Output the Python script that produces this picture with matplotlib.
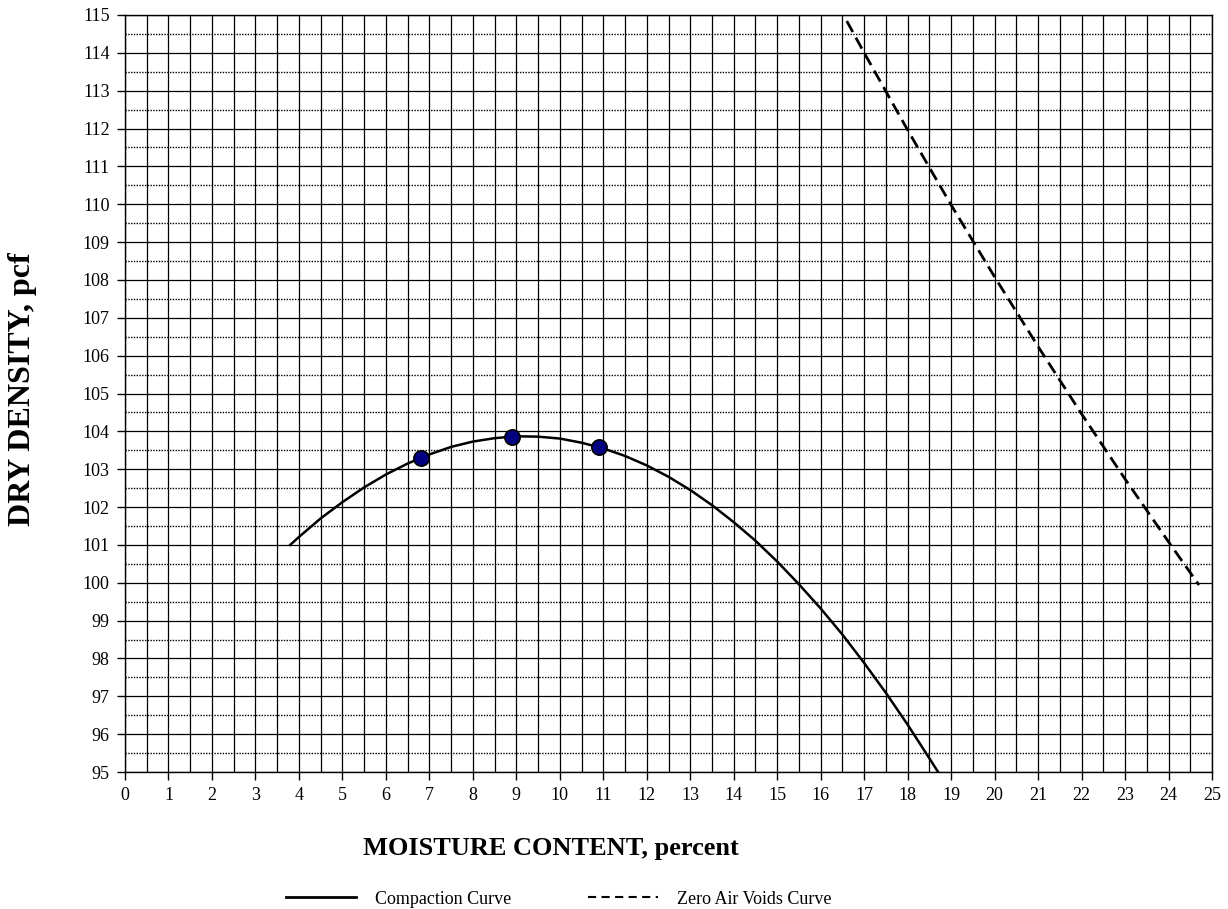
import numpy as np
import matplotlib.pyplot as plt
from matplotlib.lines import Line2D

plt.rcParams['font.family'] = ['Liberation Serif', 'DejaVu Serif']

# test points
moisture = [6.8, 8.9, 10.9]
density = [103.3, 103.85, 103.58]

# compaction curve
curve_x = [3.8, 4.0, 4.5, 5.0, 5.5, 6.0, 6.5, 7.0, 7.5, 8.0, 8.5, 9.0, 9.5, 10.0,
           10.5, 11.0, 11.5, 12.0, 12.5, 13.0, 13.5, 14.0, 14.5, 15.0, 15.5, 16.0,
           16.5, 17.0, 17.5, 18.0, 18.5, 18.7]
curve_y = [101.00, 101.21, 101.70, 102.13, 102.52, 102.86, 103.15, 103.39, 103.59,
           103.73, 103.82, 103.87, 103.86, 103.81, 103.70, 103.55, 103.35, 103.10,
           102.80, 102.45, 102.05, 101.60, 101.11, 100.56, 99.96, 99.32, 98.63,
           97.88, 97.09, 96.25, 95.36, 95.00]

# zero air voids curve
zav_x = [16.6, 17, 18, 19, 20, 21, 22, 23, 24, 24.7]
zav_y = [114.84, 114.0, 111.96, 109.98, 108.08, 106.24, 104.46, 102.74, 101.08, 99.94]

fig = plt.figure(figsize=(12.28, 9.09), dpi=100)
ax = fig.add_axes([0.1018, 0.1507, 0.8852, 0.8328])

ax.set_xlim(0, 25)
ax.set_ylim(95, 115)
ax.set_xticks(np.arange(0, 26, 1))
ax.set_yticks(np.arange(95, 116, 1))
ax.set_xticks(np.arange(0.5, 25, 1), minor=True)
ax.set_yticks(np.arange(95.5, 115, 1), minor=True)
ax.tick_params(which='major', direction='out', length=6, width=1, labelsize=13, pad=5)
ax.tick_params(which='minor', length=0)

ax.grid(which='major', axis='both', color='black', lw=0.9, ls='-')
ax.grid(which='minor', axis='x', color='black', lw=0.9, ls='-')
ax.grid(which='minor', axis='y', color='black', lw=1.0, ls=(0, (1, 1)))
ax.set_axisbelow(True)
for s in ax.spines.values():
    s.set_linewidth(1.0)

ax.plot(curve_x, curve_y, color='black', lw=1.8, zorder=3)
ax.plot(zav_x, zav_y, color='black', lw=2.0, dashes=(4.5, 2.3), zorder=3)
ax.plot(moisture, density, 'o', color='#000080', markeredgecolor='black',
        markeredgewidth=1.2, markersize=11, zorder=4)

fig.text(0.449, 0.067, 'MOISTURE CONTENT, percent', fontsize=19, fontweight='bold',
         ha='center', va='center')
fig.text(0.018, 0.572, 'DRY DENSITY, pcf', fontsize=23, fontweight='bold',
         rotation=90, ha='center', va='center')

handles = [Line2D([], [], color='black', lw=2),
           Line2D([], [], color='black', lw=1.5, dashes=(3.9, 2.6))]
fig.legend(handles, ['Compaction Curve', 'Zero Air Voids Curve'],
           loc='center', bbox_to_anchor=(0.455, 0.011), ncol=2, frameon=False,
           fontsize=13, handlelength=3.9, handletextpad=1.05, columnspacing=4.2,
           borderpad=0)

fig.savefig('out.png', dpi=100)
